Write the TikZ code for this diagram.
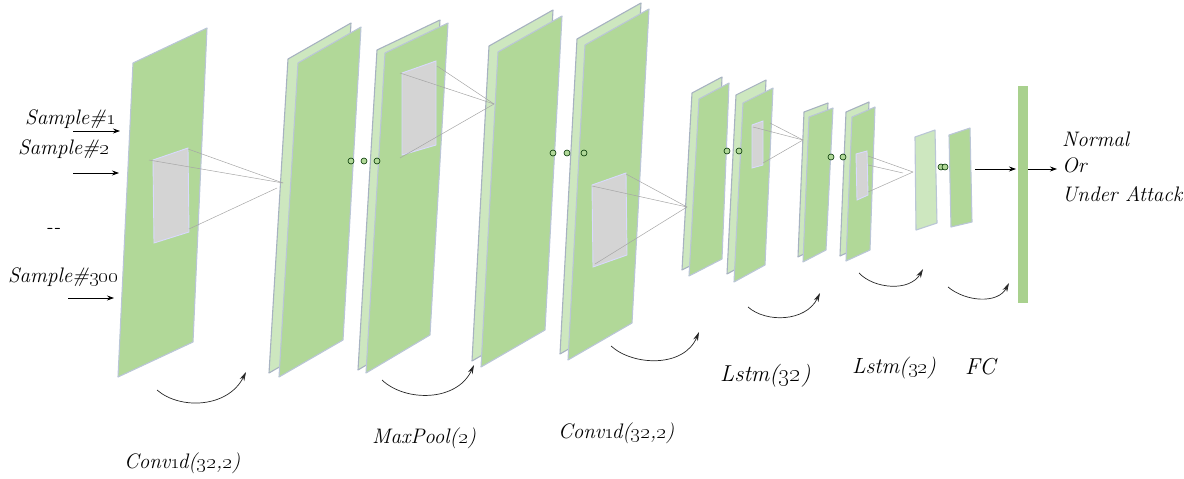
\documentclass[tikz,border=0pt]{standalone}
\usetikzlibrary{arrows.meta}
\definecolor{pfront}{HTML}{B1D898}
\definecolor{pback}{HTML}{CDE7BF}
\definecolor{pedge}{HTML}{BAC6D6}
\definecolor{patchc}{HTML}{D4D4D4}
\definecolor{fcbar}{HTML}{A9D18E}
\newcommand\myplane[5]{\filldraw[#1] #2 -- #3 -- #4 -- #5 -- cycle;}
\newcommand\mydplane[6]{\begin{scope}[shift={(#1,#2)}]\myplane{backpl}{#3}{#4}{#5}{#6}\end{scope}\myplane{frontpl}{#3}{#4}{#5}{#6}}
\newcommand\osn[1]{\oldstylenums{#1}}
\begin{document}
\begin{tikzpicture}[x=1pt,y=-1pt,
  frontpl/.style={fill=pfront,draw=pedge,line width=1.1pt,line join=round},
  backpl/.style={fill=pback,draw=pedge!90!black,line width=1.1pt,line join=round},
  lightpl/.style={fill=pback,draw=pedge,line width=1.1pt,line join=round},
  patchpl/.style={fill=patchc,draw=white!85!blue,line width=0.9pt},
  rf/.style={draw=black!35,line width=0.5pt},
  dot/.style={circle,draw=black!80!green,fill=pfront,line width=0.6pt,inner sep=0pt,minimum size=6pt},
  lbl/.style={font=\fontsize{21}{25}\selectfont\itshape,inner sep=0pt},
  arr/.style={-{Stealth[length=7pt,width=5pt]},line width=0.7pt,black},
  carr/.style={-{Stealth[length=9pt,width=5pt]},line width=0.7pt,black!85}]
\useasboundingbox (0,0) rectangle (1184,479);

% planes
\myplane{frontpl}{(133,63)}{(207,28)}{(193,342)}{(118,377)}
\mydplane{-10}{-4}{(298,63)}{(361,27)}{(343,340)}{(279,377)}
\mydplane{-8}{-3}{(385,53)}{(448,23)}{(430,335)}{(366,373)}
\mydplane{-9}{-6}{(498,52)}{(562,16)}{(545,330)}{(481,367)}
\mydplane{-8}{-6}{(585,45)}{(649,9)}{(632,323)}{(568,360)}
\mydplane{-7}{-6}{(699,99)}{(729,83)}{(722,259)}{(689,276)}
\mydplane{-7}{-8}{(743,103)}{(773,88)}{(765,265)}{(734,282)}
\mydplane{-5}{-5}{(809,117)}{(833,108)}{(826,250)}{(803,262)}
\mydplane{-6}{-5}{(852,117)}{(875,107)}{(870,250)}{(846,261)}
\myplane{lightpl}{(915,137)}{(935,130)}{(937,223)}{(916,230)}
\myplane{frontpl}{(949,135)}{(970,128)}{(972,222)}{(951,227)}
\fill[fcbar] (1018,86) rectangle (1028,303);

% patches
\myplane{patchpl}{(153,160)}{(188,148)}{(189,232)}{(154,243)}
\myplane{patchpl}{(402,73)}{(436,61)}{(436,145)}{(402,155)}
\myplane{patchpl}{(592,185)}{(626,173)}{(627,255)}{(593,267)}
\myplane{patchpl}{(752,125)}{(763,121)}{(763,165)}{(752,168)}
\myplane{patchpl}{(856,154)}{(867,151)}{(868,195)}{(857,200)}

% receptive-field lines
\coordinate (f1) at (283,183); \coordinate (f1b) at (277,188);
\draw[rf] (149,160) -- (f1); \draw[rf] (188,149) -- (f1); \draw[rf] (189,229) -- (f1b);
\coordinate (f2) at (494,104);
\draw[rf] (400,73) -- (f2); \draw[rf] (437,66) -- (f2); \draw[rf] (400,158) -- (f2);
\coordinate (f3) at (687,207);
\draw[rf] (592,186) -- (f3); \draw[rf] (626,174) -- (f3); \draw[rf] (595,264) -- (f3);
\coordinate (f4) at (803,140);
\draw[rf] (770,123) -- (f4); \draw[rf] (753,127) -- (f4); \draw[rf] (763,163) -- (f4);
\coordinate (f5) at (913,172); \coordinate (f5b) at (903,173);
\draw[rf] (868,156) -- (f5); \draw[rf] (868,165) -- (f5b); \draw[rf] (868,192) -- (f5);

% dots
\foreach \n/\x/\y in {a/351/161,b/364/161,c/377/161,d/553/153,e/567/153,f/584/153,g/727/151,h/739/151,i/831/157,j/843/157,k/941/167,l/945/167}
  \node[dot] (dot\n) at (\x,\y) {};

% input arrows and labels
\node[lbl,anchor=base west] (s1) at (25,124) {Sample\#\osn{1}};
\node[lbl,anchor=base west] (s2) at (18,154) {Sample\#\osn{2}};
\node[lbl,anchor=center] (sd) at (53,231) {{-}{-}};
\node[lbl,anchor=base west] (s3) at (8,282) {Sample\#\osn{300}};
\coordinate (a1s) at (73,131); \coordinate (a1e) at (120,131);
\coordinate (a2s) at (73,173); \coordinate (a2e) at (119,173);
\coordinate (a3s) at (68,298); \coordinate (a3e) at (114,298);
\draw[arr] (a1s) -- (a1e);
\draw[arr] (a2s) -- (a2e);
\draw[arr] (a3s) -- (a3e);

% output arrows and labels
\coordinate (o1s) at (975,169); \coordinate (o1e) at (1016,169);
\coordinate (o2s) at (1028,169); \coordinate (o2e) at (1057,169);
\draw[arr] (o1s) -- (o1e);
\draw[arr] (o2s) -- (o2e);
\node[lbl,anchor=base west] (out1) at (1062,146) {Normal};
\node[lbl,anchor=base west] (out2) at (1062,172) {Or};
\node[lbl,anchor=base west] (out3) at (1062,201) {Under Attack};

% curved arrows
\coordinate (c1s) at (157,390); \coordinate (c1e) at (246,372);
\coordinate (c2s) at (382,380); \coordinate (c2e) at (474,365);
\coordinate (c3s) at (611,346); \coordinate (c3e) at (699,332);
\coordinate (c4s) at (748,307); \coordinate (c4e) at (820,293);
\coordinate (c5s) at (859,273); \coordinate (c5e) at (923,269);
\coordinate (c6s) at (948,287); \coordinate (c6e) at (1009,283);
\draw[carr] (c1s) .. controls (180,410) and (228,408) .. (c1e);
\draw[carr] (c2s) .. controls (405,402) and (457,402) .. (c2e);
\draw[carr] (c3s) .. controls (633,366) and (684,368) .. (c3e);
\draw[carr] (c4s) .. controls (766,323) and (806,322) .. (c4e);
\draw[carr] (c5s) .. controls (874,289) and (910,292) .. (c5e);
\draw[carr] (c6s) .. controls (966,302) and (998,304) .. (c6e);

% layer labels
\node[lbl,anchor=base west] (l1) at (124,468) {Conv\osn{1}\kern-2pt d(\osn{32},\osn{2})};
\node[lbl,anchor=base west] (l2) at (372,443) {MaxPool(\osn{2})};
\node[lbl,anchor=base west] (l3) at (558,438) {Conv\osn{1}\kern-2pt d(\osn{32},\osn{2})};
\node[lbl,anchor=base west,font=\fontsize{23}{27}\selectfont\itshape] (l4) at (720,381) {Lstm(\osn{32})};
\node[lbl,anchor=base west,font=\fontsize{22}{26}\selectfont\itshape] (l5) at (852,373) {Lstm(\osn{32})};
\node[lbl,anchor=base west,font=\fontsize{23}{27}\selectfont\itshape] (l6) at (965,374) {FC};
\end{tikzpicture}
\end{document}
